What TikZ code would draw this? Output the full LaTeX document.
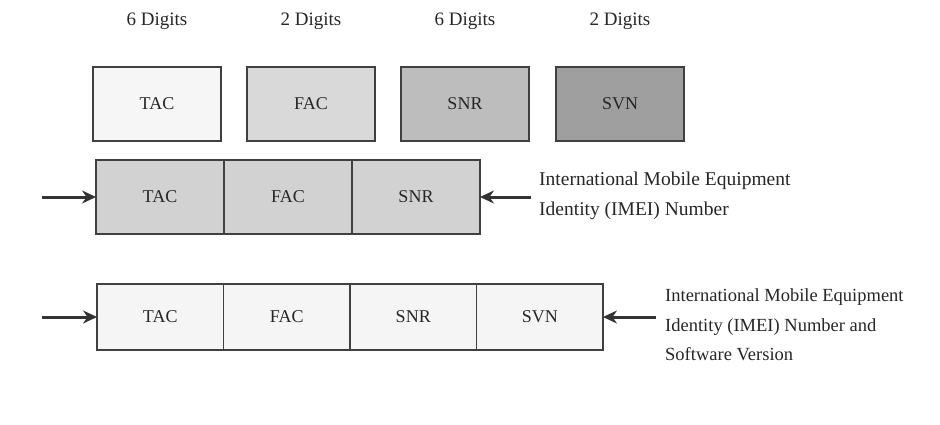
\documentclass[tikz,border=0pt]{standalone}
\usepackage{fontspec}
\setmainfont{Liberation Serif}
\usetikzlibrary{positioning,arrows.meta}

\tikzset{
  cell/.style={draw=black!75, line width=1.2pt, minimum height=74pt, minimum width=128pt,
    inner sep=0pt, outer sep=0pt, text=black!85, font=\fontsize{18}{20}\selectfont},
  svcell/.style={cell, minimum height=66pt, minimum width=126.5pt},
  digits/.style={text=black!85, font=\fontsize{19}{21}\selectfont},
  pointer/.style={-{Stealth[length=14pt,width=13pt]}, line width=3pt, black!80},
  caption/.style={anchor=west, align=left, inner sep=0pt, text=black!85}
}

\begin{document}
\begin{tikzpicture}[x=1pt,y=1pt]
    \useasboundingbox (0,0) rectangle (940,424);
    % the four fields on their own
    \node[cell,fill=gray!7]  (tac) at (157,320) {TAC};
    \node[cell,fill=gray!30] (fac) at (311,320) {FAC};
    \node[cell,fill=gray!52] (snr) at (465,320) {SNR};
    \node[cell,fill=gray!75] (svn) at (620,320) {SVN};
    \foreach \x/\n in {tac/6,fac/2,snr/6,svn/2}
    \node[digits] (len\x) at (\x.center |- 0,403) {\n\ Digits};

    % IMEI
    \node[cell,fill=gray!35] (imeitac) at (160,227) {TAC};
    \node[cell,fill=gray!35,right=0pt of imeitac] (imeifac) {FAC};
    \node[cell,fill=gray!35,right=0pt of imeifac] (imeisnr) {SNR};
    \coordinate (imeiin) at (42,227);
    \coordinate (imeiout) at (531,227);
    \draw[pointer] (imeiin) -- (imeitac);
    \draw[pointer] (imeiout) -- (imeisnr);
    \node[caption,font=\fontsize{19.5}{30}\selectfont] (imeitext) at (539,228)
      {International Mobile Equipment\\Identity (IMEI) Number};

    % IMEISV
    \node[svcell,fill=gray!8] (svtac) at (160.25,107) {TAC};
    \node[svcell,fill=gray!8,right=0pt of svtac] (svfac) {FAC};
    \node[svcell,fill=gray!8,right=0pt of svfac] (svsnr) {SNR};
    \node[svcell,fill=gray!8,right=0pt of svsnr] (svsvn) {SVN};
    \coordinate (svin) at (42,107);
    \coordinate (svout) at (656,107);
    \draw[pointer] (svin) -- (svtac);
    \draw[pointer] (svout) -- (svsvn);
    \node[caption,font=\fontsize{18.5}{29.5}\selectfont] (svtext) at (665,99)
      {International Mobile Equipment\\Identity (IMEI) Number and\\Software Version};
\end{tikzpicture}
\end{document}
